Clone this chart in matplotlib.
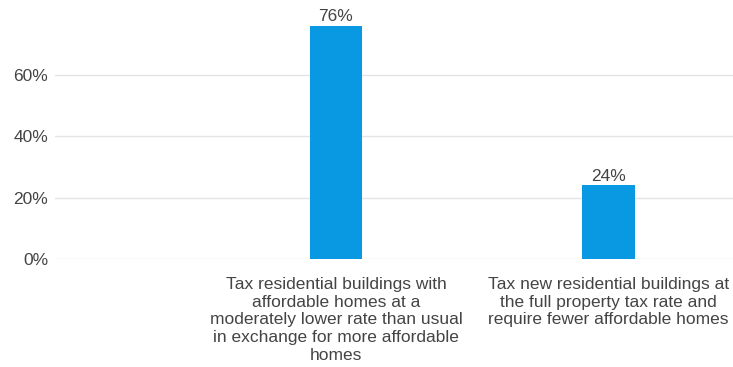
import matplotlib
matplotlib.use("Agg")
import matplotlib.pyplot as plt

plt.rcParams['font.family'] = ['Liberation Sans', 'DejaVu Sans']

categories = [
    "Tax residential buildings with\naffordable homes at a\nmoderately lower rate than usual\nin exchange for more affordable\nhomes",
    "Tax new residential buildings at\nthe full property tax rate and\nrequire fewer affordable homes",
]
values = [76, 24]
y_ticks = [0, 20, 40, 60]
y_tick_labels = ["0%", "20%", "40%", "60%"]

bar_color = "#0998e2"
text_color = "#444444"
grid_color = "#e4e4e4"

fig = plt.figure(figsize=(7.33, 3.67), dpi=100)
ax = fig.add_axes([0.075, 0.294, 0.925, 0.669])

x = list(range(len(values)))
bars = ax.bar(x, values, width=0.193, color=bar_color, zorder=3)

for xi, v in zip(x, values):
    ax.text(xi, v + 0.6, f"{v}%", ha="center", va="bottom",
            fontsize=12.5, color=text_color, zorder=4)

ax.set_xlim(-1.031, 1.457)
ax.set_ylim(0, 80)
ax.set_yticks(y_ticks)
ax.set_yticklabels(y_tick_labels, fontsize=12.5, color=text_color)
ax.yaxis.grid(True, color=grid_color, linewidth=1, zorder=0)
ax.set_xticks(x)
ax.set_xticklabels(categories, fontsize=12.5, color=text_color,
                   linespacing=1.22, va="top", ha="center")
ax.tick_params(axis="both", length=0)
ax.tick_params(axis="y", pad=5)
ax.tick_params(axis="x", pad=13)
for s in ax.spines.values():
    s.set_visible(False)

fig.savefig("out.png", dpi=100, facecolor="white")
